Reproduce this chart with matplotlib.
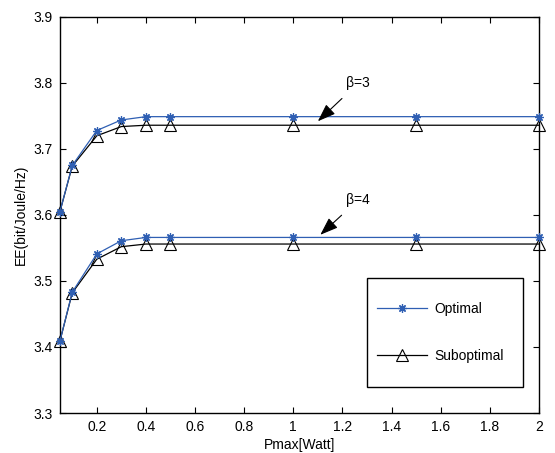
import matplotlib
matplotlib.use("Agg")
import matplotlib.pyplot as plt
from matplotlib.patches import Rectangle

plt.rcParams['font.family'] = ['Liberation Sans', 'DejaVu Sans']
plt.rcParams['font.size'] = 10

# Daten
pmax = [0.05, 0.1, 0.2, 0.3, 0.4, 0.5, 1.0, 1.5, 2.0]
opt_b3 = [3.605, 3.675, 3.728, 3.744, 3.749, 3.749, 3.749, 3.749, 3.749]
sub_b3 = [3.605, 3.674, 3.720, 3.734, 3.736, 3.736, 3.736, 3.736, 3.736]
opt_b4 = [3.409, 3.483, 3.541, 3.561, 3.566, 3.566, 3.566, 3.566, 3.566]
sub_b4 = [3.409, 3.482, 3.533, 3.552, 3.556, 3.556, 3.556, 3.556, 3.556]

xticks = [0.2, 0.4, 0.6, 0.8, 1.0, 1.2, 1.4, 1.6, 1.8, 2.0]
xticklabels = ['0.2', '0.4', '0.6', '0.8', '1', '1.2', '1.4', '1.6', '1.8', '2']
yticks = [3.3, 3.4, 3.5, 3.6, 3.7, 3.8, 3.9]

blau = '#2f5fb3'
stern = (8, 2, 0)  # Asterisk wie bei MATLAB

fig = plt.figure(figsize=(5.55, 4.53), dpi=100)
ax = fig.add_axes([0.108, 0.0883, 0.863, 0.8742])

# Optimal
l1, = ax.plot(pmax, opt_b3, '-', color=blau, lw=0.9, marker=stern, ms=6,
              mew=0.9, clip_on=False, zorder=3, label='Optimal')
ax.plot(pmax, opt_b4, '-', color=blau, lw=0.9, marker=stern, ms=6,
        mew=0.9, clip_on=False, zorder=3)
# Suboptimal
l2, = ax.plot(pmax, sub_b3, '-', color='black', lw=0.9, marker='^', ms=8,
              mfc='none', mec='black', mew=0.8, clip_on=False, zorder=2,
              label='Suboptimal')
ax.plot(pmax, sub_b4, '-', color='black', lw=0.9, marker='^', ms=8,
        mfc='none', mec='black', mew=0.8, clip_on=False, zorder=2)

ax.set_xlim(0.05, 2.0)
ax.set_ylim(3.3, 3.9)
ax.set_xticks(xticks)
ax.set_xticklabels(xticklabels)
ax.set_yticks(yticks)
ax.set_yticklabels(['%.1f' % v for v in yticks])
ax.tick_params(direction='in', top=True, right=True, length=4, width=0.8, pad=5)
for s in ax.spines.values():
    s.set_linewidth(1.0)

ax.set_xlabel('Pmax[Watt]', labelpad=3)
ax.set_ylabel('EE(bit/Joule/Hz)', labelpad=4)

# Pfeile mit beta-Beschriftung
pfeil = dict(arrowstyle='-|>,head_length=1.1,head_width=0.4', color='black',
             lw=0.8, shrinkA=6, shrinkB=0)
ax.annotate('β=3', xy=(1.10, 3.742), xytext=(1.265, 3.800), ha='center',
            va='center', arrowprops=pfeil)
ax.annotate('β=4', xy=(1.11, 3.570), xytext=(1.265, 3.623), ha='center',
            va='center', arrowprops=pfeil)

# Legende ohne Rahmen, Rahmen separat
leg = ax.legend(handles=[l1, l2], loc='upper left',
                bbox_to_anchor=(0.662, 0.281), borderaxespad=0, borderpad=0,
                labelspacing=2.4, handlelength=3.6, handletextpad=0.5,
                frameon=False)
ax.add_patch(Rectangle((0.641, 0.066), 0.326, 0.275, transform=ax.transAxes,
                       fill=False, edgecolor='black', lw=1.0, zorder=5))

fig.savefig('out.png', dpi=100)
